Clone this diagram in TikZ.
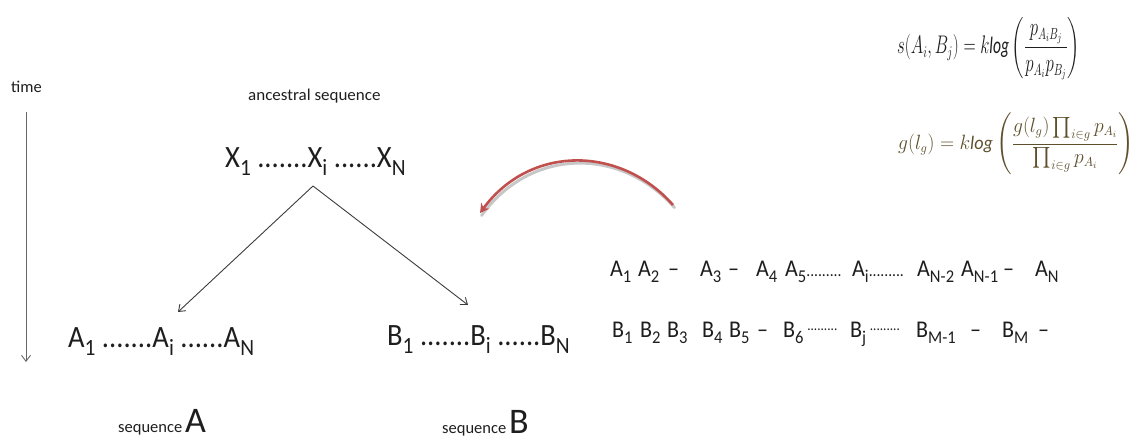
\documentclass[tikz,border=0pt]{standalone}
\usepackage{amsmath}
\usepackage{fontspec}
\setmainfont{Carlito}
\usetikzlibrary{arrows.meta}
\definecolor{txt}{RGB}{30,30,30}
\definecolor{lin}{RGB}{60,60,60}
\definecolor{redarc}{RGB}{192,80,77}
\definecolor{eqbrown}{RGB}{95,80,45}
\newcommand\sbs[1]{\raisebox{-0.27em}{\scalebox{0.75}{#1}}}
\newcommand\lowdots[1]{\scalebox{0.7}{#1}}
\newcommand\middots[1]{\raisebox{0.28em}{\scalebox{0.6}{#1}}}
\newcommand\cond[1]{\scalebox{0.92}[1]{#1}}
\tikzset{
  lbl/.style={inner sep=0pt, anchor=base west, text=txt},
  big/.style={lbl, font=\fontsize{31}{31}\selectfont},
  small/.style={lbl, font=\fontsize{16.5}{18}\selectfont},
  aln/.style={lbl, font=\fontsize{24}{24}\selectfont},
  eqn/.style={inner sep=0pt, anchor=west, font=\fontsize{16}{18}\selectfont},
  anc/.style={draw=lin, line width=0.9pt, -{Straight Barb[length=6pt,width=9pt]}},
}
\begin{document}
\begin{tikzpicture}[x=1pt,y=-1pt]
\useasboundingbox (0,0) rectangle (1137,439);
% time axis
\node[small] (time) at (11,92) {time};
\coordinate (t0) at (26,112);
\coordinate (t1) at (26,362);
\draw[anc, draw=gray!80!black] (t0) -- (t1);
% ancestral
\node[small] (anclbl) at (248,100) {\scalebox{1.03}[1]{ancestral sequence}};
\node[big] (X) at (225,167) {\cond{X\sbs{1} .......X\sbs{i} ......X\sbs{N}}};
\node[big] (A) at (68,347) {\cond{A\sbs{1} .......A\sbs{i} ......A\sbs{N}}};
\node[big] (B) at (387,345) {\cond{B\sbs{1} .......B\sbs{i} ......B\sbs{N}}};
\coordinate (apex) at (313,186);
\coordinate (tipA) at (178,312);
\coordinate (tipB) at (468,305);
\draw[anc] (apex) -- (tipA);
\draw[anc] (apex) -- (tipB);
\node[small] (seqA) at (118,432) {sequence\,{\fontsize{36}{36}\selectfont A}};
\node[small] (seqB) at (442,433) {sequence\,{\fontsize{36}{36}\selectfont B}};
% red arc
\coordinate (r0) at (673,205);
\coordinate (r1) at (480,213);
\draw[line width=3pt, black!22, line cap=round] ([shift={(1.5,2.5)}]r0) .. controls (621,147) and (531,147) .. ([shift={(1.5,2.5)}]r1);
\draw[line width=2.6pt, redarc, -{Stealth[length=9pt,width=10pt]}] (r0) .. controls (620,145) and (530,145) .. (r1);
% alignment row A
\foreach \x/\t [count=\k] in {610/A\sbs{1}, 638/A\sbs{2}, 668/--, 700/A\sbs{3}, 728/--, 756/A\sbs{4}, 785/A\sbs{5}\lowdots{.........}, 852/A\sbs{i}\lowdots{.........}, 917/A\sbs{N-2}, 961/A\sbs{N-1}, 1003/--, 1035/A\sbs{N}}
  \node[aln] (ra\k) at (\x,276) {\cond{\t}};
% alignment row B
\foreach \x/\t [count=\k] in {612/B\sbs{1}, 640/B\sbs{2}, 667/B\sbs{3}, 702/B\sbs{4}, 729/B\sbs{5}, 757/--, 783/B\sbs{6}\,\middots{.........}, 850/B\sbs{j}\,\middots{.........}, 916/B\sbs{M-1}, 970/--, 1002/B\sbs{M}, 1038/--}
  \node[aln] (rb\k) at (\x,337) {\cond{\t}};
% equations
\node[eqn, text=txt] (eq1) at (897,48.5) {\resizebox*{183pt}{63pt}{$s(A_i,B_j)=k\mathit{log}\left(\dfrac{p_{A_iB_j}}{p_{A_i}p_{B_j}}\right)$}};
\node[eqn, text=eqbrown] (eq2) at (898,144) {\resizebox*{236pt}{62pt}{$g(l_g)=k\mathit{log}\left(\dfrac{g(l_g)\prod_{i\in g}p_{A_i}}{\prod_{i\in g}p_{A_i}}\right)$}};
\end{tikzpicture}
\end{document}
